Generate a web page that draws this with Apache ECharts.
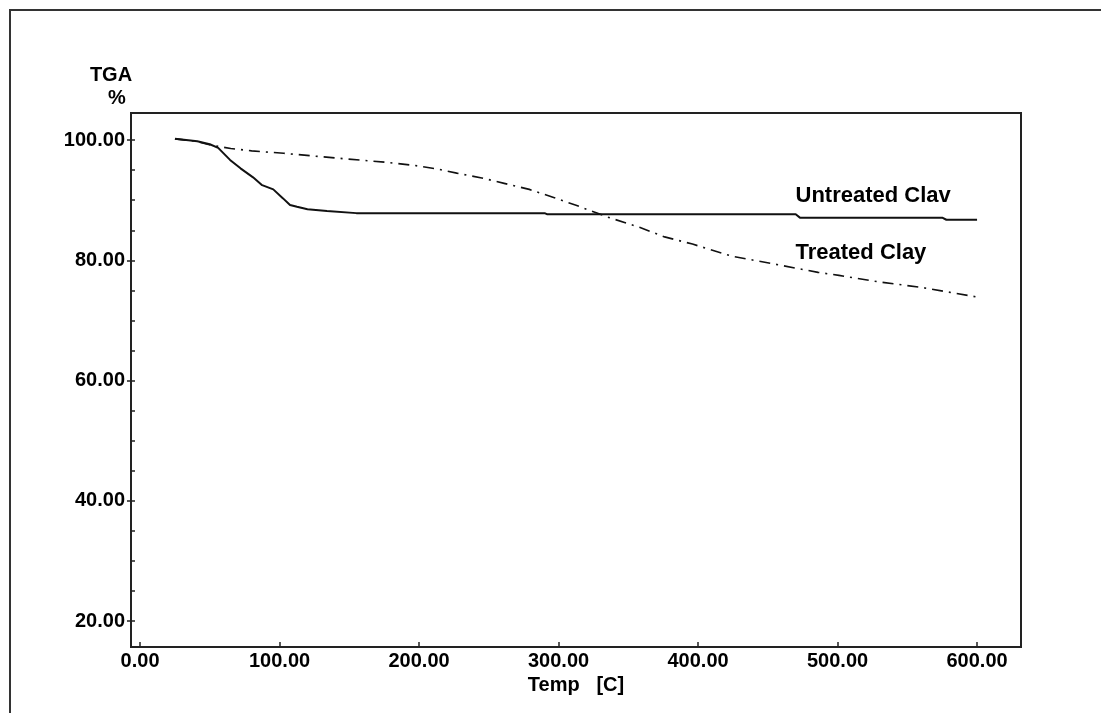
<!DOCTYPE html>
<html>
<head>
<meta charset="utf-8">
<script src="https://cdn.jsdelivr.net/npm/echarts@6/dist/echarts.min.js"></script>
<style>
  html, body { margin: 0; padding: 0; background: #fff; }
  #chart { width: 1101px; height: 713px; }
</style>
</head>
<body>
<div id="chart"></div>
<script>
// ---- data ----
const xTickValues = [0, 100, 200, 300, 400, 500, 600];
const yTickValues = [20, 40, 60, 80, 100];
const yMinorTickValues = [20, 25, 30, 35, 40, 45, 50, 55, 60, 65, 70, 75, 80, 85, 90, 95, 100];

const untreatedTemp = [25, 41, 50, 56, 64.5, 72, 81, 87.5, 95.5, 102.5, 107.5, 112.5, 120, 134, 155, 290, 292, 470, 473, 575, 578, 600];
const untreatedTGA  = [100.2, 99.8, 99.3, 98.7, 96.7, 95.3, 93.8, 92.5, 91.8, 90.3, 89.2, 88.9, 88.5, 88.2, 87.85, 87.85, 87.65, 87.65, 87.1, 87.1, 86.75, 86.75];

const treatedTemp = [25, 40, 52, 65, 80, 103, 141, 177, 196, 213, 227, 245, 261, 279, 297, 312, 327, 335, 358, 376, 396, 424, 452, 486, 501, 530, 560, 600];
const treatedTGA  = [100.2, 99.8, 99.1, 98.6, 98.2, 97.8, 97.0, 96.3, 95.8, 95.2, 94.5, 93.7, 92.8, 91.8, 90.4, 89.2, 87.9, 87.2, 85.5, 83.9, 82.7, 80.7, 79.5, 78.0, 77.5, 76.4, 75.5, 73.9];

const seriesNames = ['Untreated Clav', 'Treated Clay'];
const labelAnchors = [[469.5, 90.7], [469.5, 81.2]];

const xRange = [-6.5, 631.5];
const yRange = [15.7, 104.5];

// ---- chart ----
const FONT = "'Liberation Sans', Arial, sans-serif";
const zip = (a, b) => a.map((v, i) => [v, b[i]]);

const chart = echarts.init(document.getElementById('chart'), null, { renderer: 'canvas' });

function labelPoint(idx) {
  return {
    symbol: 'rect',
    symbolSize: 1,
    itemStyle: { color: 'rgba(0,0,0,0)' },
    silent: true,
    data: [{
      coord: labelAnchors[idx],
      label: {
        show: true,
        formatter: seriesNames[idx],
        position: 'right',
        distance: 0,
        color: '#000',
        fontFamily: FONT,
        fontWeight: 'bold',
        fontSize: 22
      }
    }]
  };
}

chart.setOption({
  animation: false,
  backgroundColor: '#fff',
  grid: {
    left: 131, top: 113, right: 80, bottom: 66,
    show: true, borderColor: '#222', borderWidth: 2,
    backgroundColor: 'transparent',
    outerBoundsMode: 'none'
  },
  graphic: [
    { type: 'rect', shape: { x: 10, y: 10, width: 1200, height: 800 },
      style: { fill: 'none', stroke: '#333', lineWidth: 2 }, silent: true },
    { type: 'text', x: 111, y: 75,
      style: { text: 'TGA', font: 'bold 20px ' + FONT, fill: '#000', align: 'center', verticalAlign: 'middle' } },
    { type: 'text', x: 117, y: 98,
      style: { text: '%', font: 'bold 20px ' + FONT, fill: '#000', align: 'center', verticalAlign: 'middle' } }
  ],
  xAxis: {
    type: 'value',
    min: xRange[0], max: xRange[1],
    name: 'Temp   [C]',
    nameLocation: 'middle',
    nameGap: 26,
    nameTextStyle: { color: '#000', fontFamily: FONT, fontWeight: 'bold', fontSize: 20 },
    axisLine: { show: true, onZero: false, lineStyle: { color: '#222', width: 2 } },
    axisTick: { show: true, inside: true, length: 5, customValues: xTickValues, lineStyle: { color: '#222', width: 1.5 } },
    axisLabel: {
      customValues: xTickValues,
      formatter: v => v.toFixed(2),
      color: '#000', fontFamily: FONT, fontWeight: 'bold', fontSize: 20, margin: 4
    },
    splitLine: { show: false }
  },
  yAxis: [{
    type: 'value',
    min: yRange[0], max: yRange[1],
    axisLine: { show: true, onZero: false, lineStyle: { color: '#222', width: 2 } },
    axisTick: { show: true, inside: false, length: 4, customValues: yTickValues, lineStyle: { color: '#222', width: 1.5 } },
    axisLabel: {
      customValues: yTickValues,
      formatter: v => v.toFixed(2),
      color: '#000', fontFamily: FONT, fontWeight: 'bold', fontSize: 20, margin: 6
    },
    splitLine: { show: false }
  }, {
    type: 'value',
    position: 'left',
    offset: 0,
    min: yRange[0], max: yRange[1],
    axisLine: { show: false, onZero: false },
    axisTick: { show: true, inside: true, length: 4, customValues: yMinorTickValues, lineStyle: { color: '#222', width: 1.5 } },
    axisLabel: { show: false },
    splitLine: { show: false }
  }],
  series: [{
    name: seriesNames[0],
    type: 'line',
    data: zip(untreatedTemp, untreatedTGA),
    showSymbol: false,
    lineStyle: { color: '#111', width: 2, type: 'solid' },
    markPoint: labelPoint(0)
  }, {
    name: seriesNames[1],
    type: 'line',
    data: zip(treatedTemp, treatedTGA),
    showSymbol: false,
    lineStyle: { color: '#111', width: 1.6, type: [11, 6, 2, 6] },
    markPoint: labelPoint(1)
  }]
});
</script>
</body>
</html>
